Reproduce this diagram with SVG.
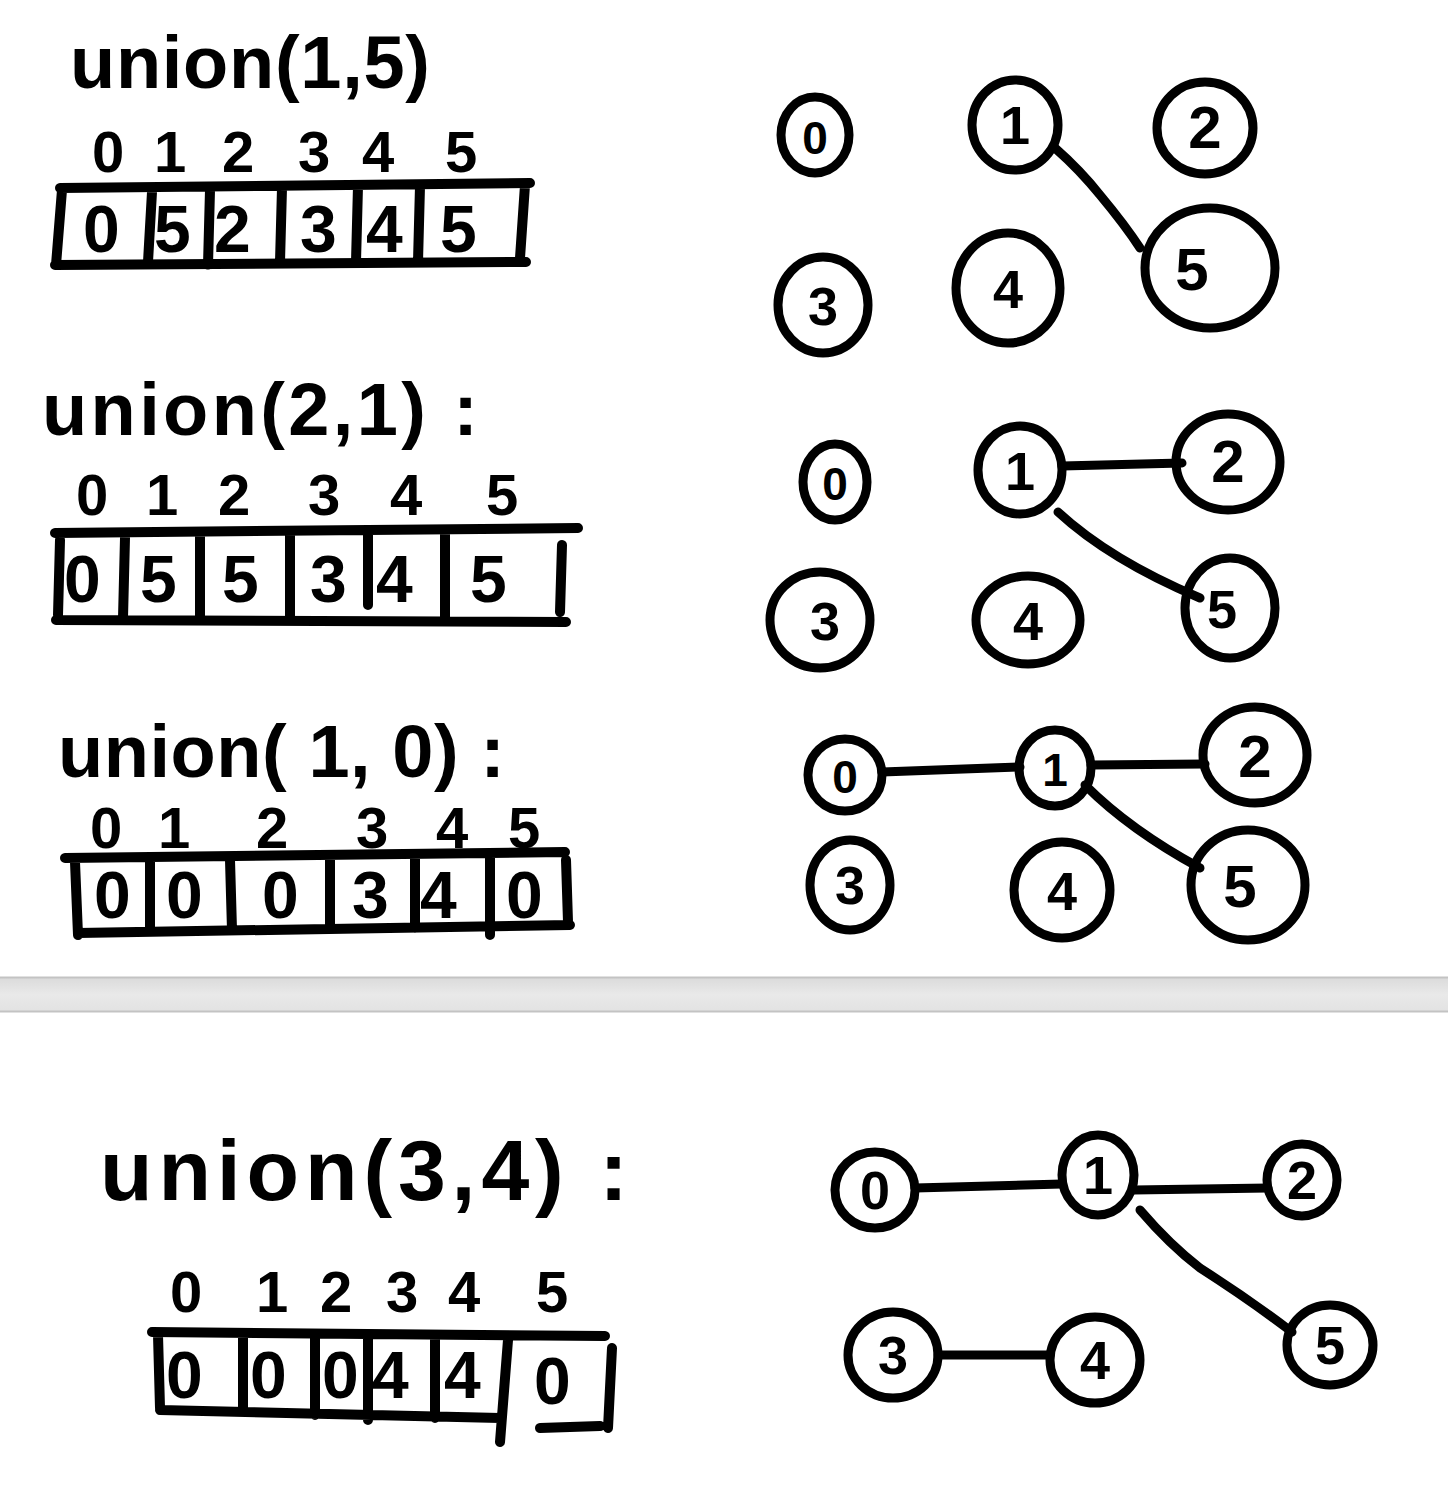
<svg xmlns="http://www.w3.org/2000/svg" width="1448" height="1500" viewBox="0 0 1448 1500">
<defs>
<linearGradient id="band" x1="0" y1="0" x2="0" y2="1">
<stop offset="0" stop-color="#dadada"/>
<stop offset="0.5" stop-color="#e9e9e9"/>
<stop offset="1" stop-color="#e2e2e2"/>
</linearGradient>
</defs>
<style>
.t{font-family:"Liberation Sans",Arial,sans-serif;font-weight:bold;fill:#000}
.h{font-size:74px}
.i{font-size:58px}
.v{font-size:66px}
.n{font-size:54px;text-anchor:middle}
.c{fill:none;stroke:#000;stroke-width:9}
.e{fill:none;stroke:#000;stroke-width:9;stroke-linecap:round}
.b{fill:none;stroke:#000;stroke-width:10;stroke-linecap:round;stroke-linejoin:round}
</style>
<rect width="1448" height="1500" fill="#fff"/>
<rect x="0" y="977" width="1448" height="35" fill="url(#band)"/>
<line x1="0" y1="977.5" x2="1448" y2="977.5" stroke="#c3c3c3" stroke-width="2"/>
<line x1="0" y1="1011.5" x2="1448" y2="1011.5" stroke="#c3c3c3" stroke-width="2"/>

<!-- Section 1 -->
<g id="step1-label"><text class="t h" x="70" y="88" textLength="360" lengthAdjust="spacing">union(1,5)</text></g>
<g id="step1-indices" class="t i">
<text x="92" y="172">0</text><text x="154" y="172">1</text><text x="222" y="172">2</text><text x="298" y="172">3</text><text x="362" y="172">4</text><text x="445" y="172">5</text>
</g>
<g id="step1-array">
<path class="b" d="M60 188 L530 183 M55 265 L526 262 M62 190 L56 265 M525 185 L520 258 M152 192 L148 262 M210 190 L208 265 M282 188 L280 262 M358 186 L356 262 M420 186 L418 262"/>
<g class="t v"><text x="83" y="252">0</text><text x="154" y="252">5</text><text x="214" y="252">2</text><text x="300" y="252">3</text><text x="366" y="252">4</text><text x="440" y="252">5</text></g>
</g>
<g id="step1-graph">
<g id="s1n0"><ellipse class="c" cx="815" cy="135" rx="34" ry="38"/><text class="t n" x="815" y="154" style="font-size:46px">0</text></g>
<g id="s1n1"><ellipse class="c" cx="1015" cy="125" rx="43" ry="45"/><text class="t n" x="1015" y="144">1</text></g>
<g id="s1n2"><ellipse class="c" cx="1205" cy="128" rx="48" ry="46"/><text class="t n" x="1205" y="148" style="font-size:60px">2</text></g>
<g id="s1n3"><ellipse class="c" cx="823" cy="305" rx="45" ry="48"/><text class="t n" x="823" y="325">3</text></g>
<g id="s1n4"><ellipse class="c" cx="1008" cy="288" rx="52" ry="55"/><text class="t n" x="1008" y="308">4</text></g>
<g id="s1n5"><ellipse class="c" cx="1210" cy="268" rx="65" ry="60"/><text class="t n" x="1192" y="290" style="font-size:60px">5</text></g>
</g>

<!-- Section 2 -->
<g id="step2-label"><text class="t h" x="42" y="435" textLength="436" lengthAdjust="spacing">union(2,1) :</text></g>
<g id="step2-indices" class="t i">
<text x="76" y="515">0</text><text x="146" y="515">1</text><text x="218" y="515">2</text><text x="308" y="515">3</text><text x="390" y="515">4</text><text x="486" y="515">5</text>
</g>
<g id="step2-array">
<path class="b" d="M55 533 L578 528 M56 620 L566 622 M60 540 L58 615 M562 545 L560 612 M125 538 L123 618 M200 535 L200 618 M290 535 L290 618 M368 533 L368 605 M445 533 L445 620"/>
<g class="t v"><text x="64" y="602">0</text><text x="140" y="602">5</text><text x="222" y="602">5</text><text x="310" y="602">3</text><text x="376" y="602">4</text><text x="470" y="602">5</text></g>
</g>
<g id="step2-graph">
<g id="s2n0"><ellipse class="c" cx="835" cy="482" rx="32" ry="38"/><text class="t n" x="835" y="500" style="font-size:46px">0</text></g>
<g id="s2n1"><ellipse class="c" cx="1020" cy="470" rx="42" ry="44"/><text class="t n" x="1020" y="490">1</text></g>
<g id="s2n2"><ellipse class="c" cx="1228" cy="462" rx="52" ry="48"/><text class="t n" x="1228" y="482" style="font-size:60px">2</text></g>
<g id="s2n3"><ellipse class="c" cx="820" cy="620" rx="50" ry="48"/><text class="t n" x="825" y="640">3</text></g>
<g id="s2n4"><ellipse class="c" cx="1028" cy="620" rx="52" ry="44"/><text class="t n" x="1028" y="640">4</text></g>
<g id="s2n5"><ellipse class="c" cx="1230" cy="608" rx="45" ry="50"/><text class="t n" x="1222" y="628">5</text></g>
</g>

<!-- Section 3 -->
<g id="step3-label"><text class="t h" x="58" y="777" textLength="447" lengthAdjust="spacing">union( 1, 0) :</text></g>
<g id="step3-indices" class="t i">
<text x="90" y="848">0</text><text x="158" y="848">1</text><text x="256" y="848">2</text><text x="356" y="848">3</text><text x="436" y="848">4</text><text x="508" y="848">5</text>
</g>
<g id="step3-array">
<path class="b" d="M65 858 L565 852 M78 933 L570 925 M75 862 L78 935 M566 860 L568 922 M150 862 L150 928 M230 860 L232 930 M330 860 L330 928 M415 858 L415 928 M490 858 L490 935"/>
<g class="t v"><text x="94" y="918">0</text><text x="166" y="918">0</text><text x="262" y="918">0</text><text x="352" y="918">3</text><text x="420" y="918">4</text><text x="506" y="918">0</text></g>
</g>
<g id="step3-graph">
<g id="s3n0"><ellipse class="c" cx="845" cy="775" rx="37" ry="36"/><text class="t n" x="845" y="793" style="font-size:46px">0</text></g>
<g id="s3n1"><ellipse class="c" cx="1055" cy="768" rx="36" ry="38"/><text class="t n" x="1055" y="786" style="font-size:46px">1</text></g>
<g id="s3n2"><ellipse class="c" cx="1255" cy="755" rx="52" ry="48"/><text class="t n" x="1255" y="777" style="font-size:60px">2</text></g>
<g id="s3n3"><ellipse class="c" cx="850" cy="885" rx="40" ry="45"/><text class="t n" x="850" y="904">3</text></g>
<g id="s3n4"><ellipse class="c" cx="1062" cy="890" rx="48" ry="48"/><text class="t n" x="1062" y="910">4</text></g>
<g id="s3n5"><ellipse class="c" cx="1248" cy="885" rx="57" ry="55"/><text class="t n" x="1240" y="907" style="font-size:60px">5</text></g>
</g>

<!-- Section 4 -->
<g id="step4-label"><text class="t h" x="100" y="1200" style="font-size:86px" textLength="528" lengthAdjust="spacing">union(3,4) :</text></g>
<g id="step4-indices" class="t i">
<text x="170" y="1312">0</text><text x="256" y="1312">1</text><text x="320" y="1312">2</text><text x="386" y="1312">3</text><text x="448" y="1312">4</text><text x="536" y="1312">5</text>
</g>
<g id="step4-array">
<path class="b" d="M152 1332 L605 1336 M160 1410 L500 1418 M540 1428 L600 1426 M158 1335 L160 1408 M612 1348 L608 1428 M243 1335 L243 1412 M315 1335 L315 1415 M368 1335 L368 1420 M435 1335 L435 1418 M508 1340 L500 1442"/>
<g class="t v"><text x="166" y="1398">0</text><text x="250" y="1398">0</text><text x="322" y="1398">0</text><text x="372" y="1398">4</text><text x="444" y="1398">4</text><text x="534" y="1404">0</text></g>
</g>
<g id="step4-graph">
<g id="s4n0"><ellipse class="c" cx="875" cy="1190" rx="40" ry="38"/><text class="t n" x="875" y="1209">0</text></g>
<g id="s4n1"><ellipse class="c" cx="1098" cy="1175" rx="36" ry="40"/><text class="t n" x="1098" y="1194">1</text></g>
<g id="s4n2"><ellipse class="c" cx="1302" cy="1180" rx="35" ry="36"/><text class="t n" x="1302" y="1199">2</text></g>
<g id="s4n3"><ellipse class="c" cx="893" cy="1355" rx="45" ry="43"/><text class="t n" x="893" y="1374">3</text></g>
<g id="s4n4"><ellipse class="c" cx="1095" cy="1360" rx="45" ry="43"/><text class="t n" x="1095" y="1379">4</text></g>
<g id="s4n5"><ellipse class="c" cx="1330" cy="1345" rx="43" ry="40"/><text class="t n" x="1330" y="1364">5</text></g>
</g>

<g id="connectors">
<path class="e" d="M1055 148 Q1080 170 1100 195 Q1125 225 1140 248"/>
<path class="e" d="M1062 466 L1182 463"/>
<path class="e" d="M1058 512 Q1110 560 1200 598"/>
<path class="e" d="M882 772 L1020 767"/>
<path class="e" d="M1091 765 L1205 764"/>
<path class="e" d="M1085 785 Q1130 830 1200 868"/>
<path class="e" d="M915 1188 L1062 1184"/>
<path class="e" d="M1134 1190 L1268 1188"/>
<path class="e" d="M1140 1210 Q1170 1245 1200 1268 Q1250 1300 1292 1332"/>
<path class="e" d="M938 1355 L1050 1355"/>
</g>
</svg>
